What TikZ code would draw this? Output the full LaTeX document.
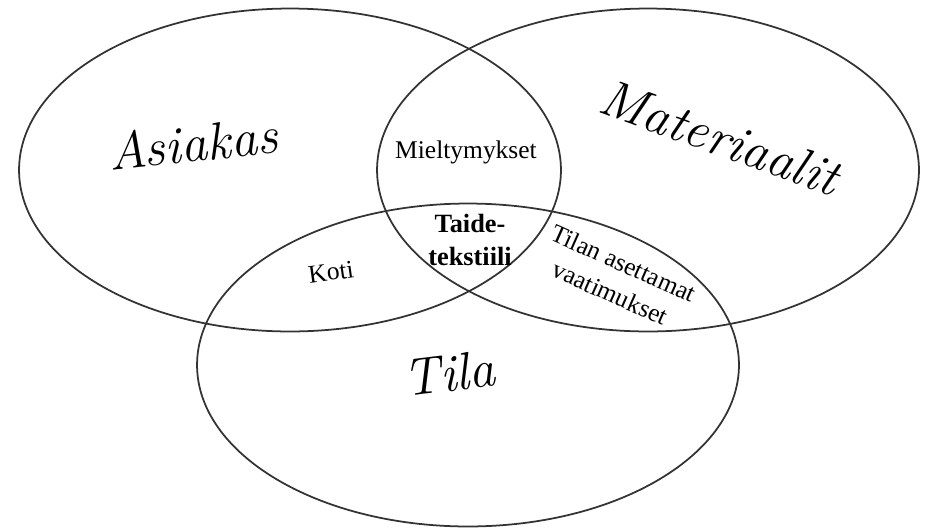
\documentclass[tikz,border=0pt]{standalone}
\usepackage{fontspec}
\usetikzlibrary{shapes.geometric}
\newfontfamily\labelfont{Liberation Serif}

\begin{document}
\begin{tikzpicture}
            [x=0.02cm, y=-0.02cm, semithick,
             set/.style={shape=ellipse, draw=black!80, line width=1pt, minimum width=10.84cm, minimum height=6.46cm},
             big/.style={font=\itshape\fontsize{30}{36}\selectfont},
             small/.style={font=\labelfont\fontsize{14.5}{18.5}\selectfont, align=center, inner sep=0pt}]
            \useasboundingbox (0, 0) rectangle (926, 528);
            \node[set] (asiakas) at (290, 170) {};
            \node[set] (materiaalit) at (648, 170) {};
            \node[set] (tila) at (468, 365) {};

            \node[big, rotate=6] (asiakaslabel) at (193, 143) {Asiakas};
            \node[big, rotate=-20] (materiaalitlabel) at (720, 137) {Materiaalit};
            \node[big, rotate=7] (tilalabel) at (449, 373) {Tila};

            \node[small] (mieltymykset) at (466, 152) {Mieltymykset};
            \node[small, font=\labelfont\bfseries\fontsize{15}{18.5}\selectfont] (taide) at (470, 240) {Taide-\\tekstiili};
            \node[small, rotate=8] (koti) at (331, 272) {Koti};
            \node[small, rotate=-24] (vaatimukset) at (617, 278) {Tilan asettamat\\vaatimukset};
        \end{tikzpicture}
\end{document}
